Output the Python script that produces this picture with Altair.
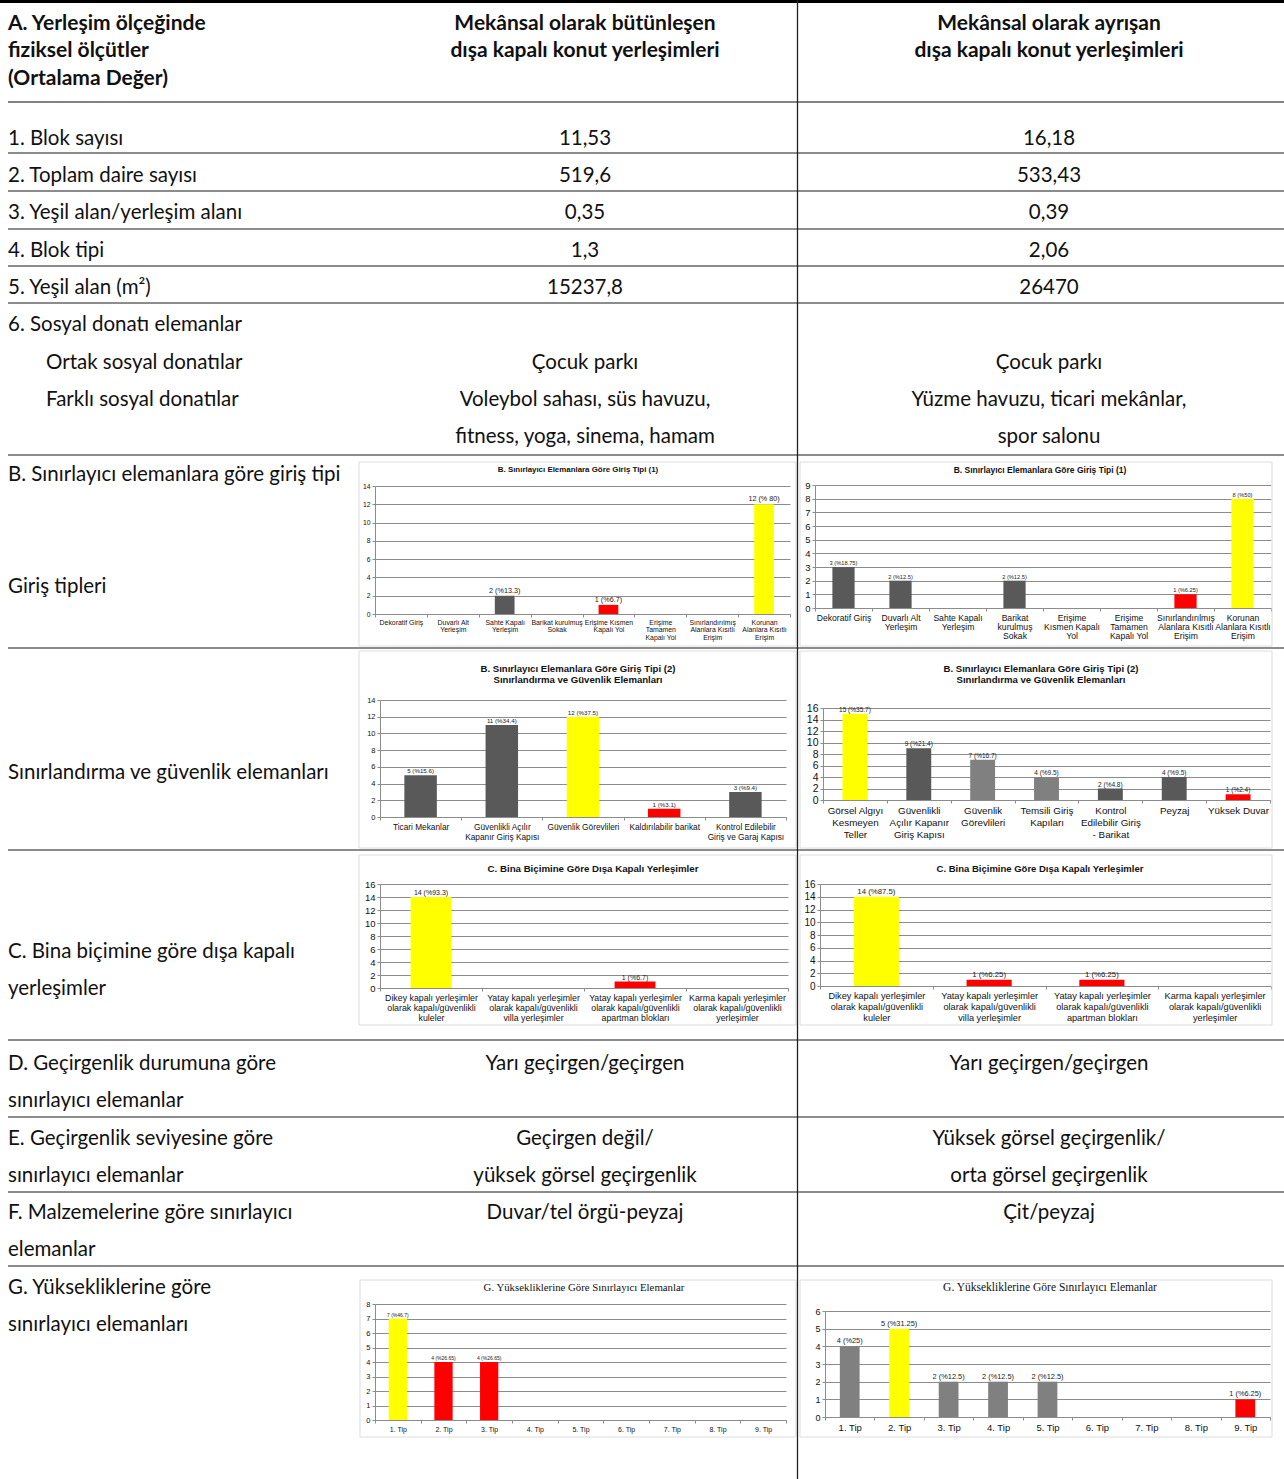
import altair as alt
import pandas as pd

W, H = 1284, 1479

# ---------------- table content ----------------
head_criteria = ["A. Yerleşim ölçeğinde", "fiziksel ölçütler", "(Ortalama Değer)"]
head_integrated = ["Mekânsal olarak bütünleşen", "dışa kapalı konut yerleşimleri"]
head_separated = ["Mekânsal olarak ayrışan", "dışa kapalı konut yerleşimleri"]

measures = ["1. Blok sayısı", "2. Toplam daire sayısı", "3. Yeşil alan/yerleşim alanı",
            "4. Blok tipi", "5. Yeşil alan (m²)"]
measure_integrated = ["11,53", "519,6", "0,35", "1,3", "15237,8"]
measure_separated = ["16,18", "533,43", "0,39", "2,06", "26470"]

social_title = ["6. Sosyal donatı elemanlar"]
social_kinds = ["Ortak sosyal donatılar", "Farklı sosyal donatılar"]
social_integrated = ["Çocuk parkı", "Voleybol sahası, süs havuzu,", "fitness, yoga, sinema, hamam"]
social_separated = ["Çocuk parkı", "Yüzme havuzu, ticari mekânlar,", "spor salonu"]

section_b = ["B. Sınırlayıcı elemanlara göre giriş tipi", "Giriş tipleri",
             "Sınırlandırma ve güvenlik elemanları"]
section_c = ["C. Bina biçimine göre dışa kapalı", "yerleşimler"]
section_d = ["D. Geçirgenlik durumuna göre", "sınırlayıcı elemanlar"]
d_integrated = ["Yarı geçirgen/geçirgen"]
d_separated = ["Yarı geçirgen/geçirgen"]
section_e = ["E. Geçirgenlik seviyesine göre", "sınırlayıcı elemanlar"]
e_integrated = ["Geçirgen değil/", "yüksek görsel geçirgenlik"]
e_separated = ["Yüksek görsel geçirgenlik/", "orta görsel geçirgenlik"]
section_f = ["F. Malzemelerine göre sınırlayıcı", "elemanlar"]
f_integrated = ["Duvar/tel örgü-peyzaj"]
f_separated = ["Çit/peyzaj"]
section_g = ["G. Yüksekliklerine göre", "sınırlayıcı elemanları"]

# ---------------- chart content ----------------
entry1_title = ["B. Sınırlayıcı Elemanlara Göre Giriş Tipi (1)"]
entry1a_categories = ["Dekoratif Giriş", "Duvarlı Alt\nYerleşim", "Sahte Kapalı\nYerleşim",
                      "Barikat kurulmuş\nSokak", "Erişime Kısmen\nKapalı Yol",
                      "Erişime\nTamamen\nKapalı Yol", "Sınırlandırılmış\nAlanlara Kısıtlı\nErişim",
                      "Korunan\nAlanlara Kısıtlı\nErişim"]
entry1a_values = [0, 0, 2, 0, 1, 0, 0, 12]
entry1a_labels = ["", "", "2 (%13.3)", "", "1 (%6.7)", "", "", "12 (% 80)"]

entry1b_categories = ["Dekoratif Giriş", "Duvarlı Alt\nYerleşim", "Sahte Kapalı\nYerleşim",
                      "Barikat\nkurulmuş\nSokak", "Erişime\nKısmen Kapalı\nYol",
                      "Erişime\nTamamen\nKapalı Yol", "Sınırlandırılmış\nAlanlara Kısıtlı\nErişim",
                      "Korunan\nAlanlara Kısıtlı\nErişim"]
entry1b_values = [3, 2, 0, 2, 0, 0, 1, 8]
entry1b_labels = ["3 (%18.75)", "2 (%12.5)", "", "2 (%12.5)", "", "", "1 (%6.25)", "8 (%50)"]

entry2_title = ["B. Sınırlayıcı Elemanlara Göre Giriş Tipi (2)", "Sınırlandırma ve Güvenlik Elemanları"]
entry2a_categories = ["Ticari Mekanlar", "Güvenlikli Açılır\nKapanır Giriş Kapısı",
                      "Güvenlik Görevlileri", "Kaldırılabilir barikat",
                      "Kontrol Edilebilir\nGiriş ve Garaj Kapısı"]
entry2a_values = [5, 11, 12, 1, 3]
entry2a_labels = ["5 (%15.6)", "11 (%34.4)", "12 (%37.5)", "1 (%3.1)", "3 (%9.4)"]

entry2b_categories = ["Görsel Algıyı\nKesmeyen\nTeller", "Güvenlikli\nAçılır Kapanır\nGiriş Kapısı",
                      "Güvenlik\nGörevlileri", "Temsili Giriş\nKapıları",
                      "Kontrol\nEdilebilir Giriş\n- Barikat", "Peyzaj", "Yüksek Duvar"]
entry2b_values = [15, 9, 7, 4, 2, 4, 1]
entry2b_labels = ["15 (%35.7)", "9 (%21.4)", "7 (%16.7)", "4 (%9.5)", "2 (%4.8)", "4 (%9.5)", "1 (%2.4)"]

form_title = ["C. Bina Biçimine Göre Dışa Kapalı Yerleşimler"]
form_categories = ["Dikey kapalı yerleşimler\nolarak kapalı/güvenlikli\nkuleler",
                   "Yatay kapalı yerleşimler\nolarak kapalı/güvenlikli\nvilla yerleşimler",
                   "Yatay kapalı yerleşimler\nolarak kapalı/güvenlikli\napartman blokları",
                   "Karma kapalı yerleşimler\nolarak kapalı/güvenlikli\nyerleşimler"]
form_a_values = [14, 0, 1, 0]
form_a_labels = ["14 (%93.3)", "", "1 (%6.7)", ""]
form_b_values = [14, 1, 1, 0]
form_b_labels = ["14 (%87.5)", "1 (%6.25)", "1 (%6.25)", ""]

height_title = ["G. Yüksekliklerine Göre Sınırlayıcı Elemanlar"]
height_categories = ["1. Tip", "2. Tip", "3. Tip", "4. Tip", "5. Tip",
                     "6. Tip", "7. Tip", "8. Tip", "9. Tip"]
height_a_values = [7, 4, 4, 0, 0, 0, 0, 0, 0]
height_a_labels = ["7 (%46.7)", "4 (%26.65)", "4 (%26.65)", "", "", "", "", "", ""]
height_b_values = [4, 5, 2, 2, 2, 0, 0, 0, 1]
height_b_labels = ["4 (%25)", "5 (%31.25)", "2 (%12.5)", "2 (%12.5)", "2 (%12.5)", "", "", "", "1 (%6.25)"]

# ---------------- layout & style ----------------
BODY_FONT = "Lato"
CHART_FONT = "Liberation Sans"
SERIF_FONT = "Liberation Serif"
BODY_SIZE = 20.5
HEAD_SIZE = 21
INK = "#111111"
GRID = "#8c8c8c"
PEAK, LOW = "#ffff00", "#ff0000"

X_LEFT, X_INDENT, X_MID, X_RIGHT = 8, 46, 585, 1049
DY = 1.5  # optical nudge for the table's text baseline

texts = []  # x, y, text, size, font, weight, align


def put(x, ys, lines, size=BODY_SIZE, font=BODY_FONT, weight="normal", align="left", dy=DY):
    for y, t in zip(ys, lines):
        texts.append(dict(x=x, y=y + dy, text=t, size=size, font=font, weight=weight, align=align))


put(X_LEFT, [22, 49, 77], head_criteria, size=HEAD_SIZE, weight="bold")
put(X_MID, [22, 49], head_integrated, size=HEAD_SIZE, weight="bold", align="center")
put(X_RIGHT, [22, 49], head_separated, size=HEAD_SIZE, weight="bold", align="center")

row_y = [137, 174, 211, 249, 286]
put(X_LEFT, row_y, measures)
put(X_MID, row_y, measure_integrated, align="center")
put(X_RIGHT, row_y, measure_separated, align="center")

put(X_LEFT, [323], social_title)
put(X_INDENT, [361, 398], social_kinds)
put(X_MID, [361, 398, 435], social_integrated, align="center")
put(X_RIGHT, [361, 398, 435], social_separated, align="center")

put(X_LEFT, [473, 585, 771], section_b)
put(X_LEFT, [950, 987], section_c)
put(X_LEFT, [1062, 1099], section_d)
put(X_MID, [1062], d_integrated, align="center")
put(X_RIGHT, [1062], d_separated, align="center")
put(X_LEFT, [1137, 1174], section_e)
put(X_MID, [1137, 1174], e_integrated, align="center")
put(X_RIGHT, [1137, 1174], e_separated, align="center")
put(X_LEFT, [1211, 1248], section_f)
put(X_MID, [1211], f_integrated, align="center")
put(X_RIGHT, [1211], f_separated, align="center")
put(X_LEFT, [1286, 1323], section_g)

# chart titles
put(578, [470], entry1_title, size=7.9, font=CHART_FONT, weight="bold", align="center", dy=0)
put(1040, [470], entry1_title, size=8.5, font=CHART_FONT, weight="bold", align="center", dy=0)
put(578, [669, 680], entry2_title, size=9.6, font=CHART_FONT, weight="bold", align="center", dy=0)
put(1041, [669, 680], entry2_title, size=9.6, font=CHART_FONT, weight="bold", align="center", dy=0)
put(593, [869], form_title, size=9.7, font=CHART_FONT, weight="bold", align="center", dy=0)
put(1040, [869], form_title, size=9.5, font=CHART_FONT, weight="bold", align="center", dy=0)
put(584, [1288], height_title, size=10.8, font=SERIF_FONT, align="center", dy=0)
put(1050, [1288], height_title, size=11.5, font=SERIF_FONT, align="center", dy=0)

text_df = pd.DataFrame(texts)

# table rules: x, x2, y, y2, width, colour
rules = [dict(x=0, x2=W, y=1.5, y2=1.5, w=3, c="#000000"),
         dict(x=X_LEFT, x2=W, y=102, y2=102, w=1.5, c="#5a5a5a"),
         dict(x=797.5, x2=797.5, y=0, y2=H, w=1.3, c="#222222")]
for yy in [153, 191, 229, 266, 303, 455, 648, 850, 1040, 1117, 1192, 1266]:
    rules.append(dict(x=X_LEFT, x2=W, y=yy, y2=yy, w=1.2, c="#1a1a1a"))
rule_df = pd.DataFrame(rules)

# light outlines round each chart
frames = pd.DataFrame([
    dict(x=359, x2=796, y=462, y2=646), dict(x=800, x2=1272, y=462, y2=646),
    dict(x=359, x2=796, y=651, y2=848), dict(x=800, x2=1272, y=651, y2=848),
    dict(x=359, x2=796, y=855, y2=1025), dict(x=800, x2=1272, y=855, y2=1025),
    dict(x=360, x2=796, y=1280, y2=1437), dict(x=800, x2=1272, y=1280, y2=1437),
])

PX = dict(scale=None, axis=None)

frame_layer = alt.Chart(frames).mark_rect(fill=None, stroke="#dcdcdc", strokeWidth=1).encode(
    x=alt.X("x:Q", **PX), x2="x2:Q", y=alt.Y("y:Q", **PX), y2="y2:Q")

rule_layer = alt.Chart(rule_df).mark_rule().encode(
    x=alt.X("x:Q", **PX), x2="x2:Q", y=alt.Y("y:Q", **PX), y2="y2:Q",
    strokeWidth=alt.StrokeWidth("w:Q", scale=None, legend=None),
    color=alt.Color("c:N", scale=None, legend=None))

text_layers = []
for (font, weight, align), grp in text_df.groupby(["font", "weight", "align"]):
    text_layers.append(
        alt.Chart(grp.reset_index(drop=True)).mark_text(
            font=font, fontWeight=weight, align=align, baseline="middle", color=INK
        ).encode(
            x=alt.X("x:Q", **PX), y=alt.Y("y:Q", **PX), text="text:N",
            size=alt.Size("size:Q", scale=None, legend=None)))


def bar_panel(cats, vals, labs, ymax, step, xr, yr, bw, gray, light, ylab, xlab, xlh, vlab):
    top = max(vals)
    low = min(v for v in vals if v > 0)
    fills = []
    for i, v in enumerate(vals):
        if v == top:
            fills.append(PEAK)
        elif v == low:
            fills.append(LOW)
        elif i in light:
            fills.append("#808080")
        else:
            fills.append(gray)
    df = pd.DataFrame({"cat": cats, "val": vals, "lab": labs, "fill": fills})
    xs = alt.Scale(domain=cats, range=list(xr), paddingInner=0, paddingOuter=0)
    ys = alt.Scale(domain=[0, ymax], range=list(yr), nice=False, zero=True)
    x_axis = alt.Axis(orient="bottom", offset=yr[0] - H, labelAngle=0, tickBand="extent",
                      labelExpr="split(datum.label, '\\n')", labelFont=CHART_FONT,
                      labelFontSize=xlab, labelLineHeight=xlh, labelColor=INK, labelPadding=2,
                      labelOverlap=False, labelLimit=300, tickSize=3, tickColor=GRID,
                      domainColor=GRID, grid=False, title=None)
    y_axis = alt.Axis(orient="left", offset=-xr[0], values=list(range(0, ymax + 1, step)),
                      labelFont=CHART_FONT, labelFontSize=ylab, labelColor=INK, labelPadding=2,
                      tickSize=3, tickColor=GRID, domainColor=GRID, grid=True, gridColor=GRID,
                      gridWidth=1, title=None)
    enc = dict(x=alt.X("cat:N", scale=xs, axis=x_axis, sort=None),
               y=alt.Y("val:Q", scale=ys, axis=y_axis))
    base = alt.Chart(df)
    bars = base.mark_bar(width=alt.RelativeBandSize(bw)).encode(
        color=alt.Color("fill:N", scale=None, legend=None), **enc)
    notes = base.transform_filter("datum.lab != ''").mark_text(
        baseline="bottom", dy=-1, font=CHART_FONT, fontSize=vlab, color="#222222"
    ).encode(text="lab:N", **enc)
    return alt.layer(bars, notes)


panels = [
    bar_panel(entry1a_categories, entry1a_values, entry1a_labels, 14, 2, (375, 790), (614, 486),
              0.38, "#595959", [], 6.8, 6.9, 7.5, 7.2),
    bar_panel(entry1b_categories, entry1b_values, entry1b_labels, 9, 1, (815, 1271), (608, 485),
              0.39, "#595959", [], 9.5, 8.6, 9.2, 5.7),
    bar_panel(entry2a_categories, entry2a_values, entry2a_labels, 14, 2, (380, 786), (817, 700),
              0.4, "#595959", [], 7.5, 8.3, 10, 6.2),
    bar_panel(entry2b_categories, entry2b_values, entry2b_labels, 16, 2, (823, 1270), (800, 708),
              0.39, "#595959", [2, 3], 10.5, 9.8, 12, 6.5),
    bar_panel(form_categories, form_a_values, form_a_labels, 16, 2, (380, 788), (988, 884),
              0.4, "#595959", [], 9.5, 8.8, 10, 7),
    bar_panel(form_categories, form_b_values, form_b_labels, 16, 2, (820, 1271), (986, 884),
              0.4, "#595959", [], 10, 9.2, 11, 7.8),
    bar_panel(height_categories, height_a_values, height_a_labels, 8, 1, (375, 786), (1420, 1304),
              0.4, "#595959", [], 7.5, 7, 9, 5),
    bar_panel(height_categories, height_b_values, height_b_labels, 6, 1, (825, 1270), (1417, 1311),
              0.4, "#808080", [], 9, 9.5, 10, 7.4),
]

chart = alt.layer(frame_layer, *panels, rule_layer, *text_layers).resolve_scale(
    x="independent", y="independent"
).properties(
    width=W, height=H, autosize=alt.AutoSizeParams(type="none"), padding=0,
    background="#ffffff"
).configure_view(stroke=None)

chart.save("out.html", embed_options={"renderer": "svg", "actions": False})
